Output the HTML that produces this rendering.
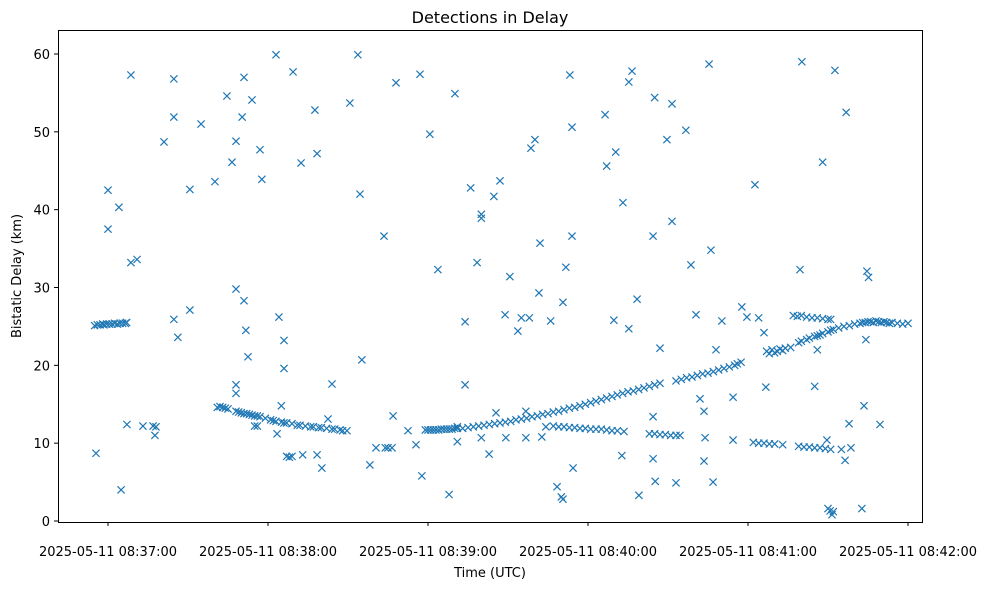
<!DOCTYPE html>
<html><head><meta charset="utf-8"><style>
body{margin:0;background:#fff;}
svg text{font-family:"DejaVu Sans","Liberation Sans",sans-serif;fill:#000;}
</style></head><body>
<svg id="chart" width="988" height="590" xmlns="http://www.w3.org/2000/svg">
<rect x="0" y="0" width="988" height="590" fill="#fff"/>
<text x="490" y="23" font-size="16" text-anchor="middle">Detections in Delay</text>
<g id="marks"></g>
<rect x="58.5" y="30.5" width="864" height="492" fill="none" stroke="#000" stroke-width="1"/>
<g id="xticks"></g>
<g id="yticks"></g>
<text x="490" y="577" font-size="13" text-anchor="middle">Time (UTC)</text>
<text x="21" y="276" font-size="13" text-anchor="middle" transform="rotate(-90 21 276)">Bistatic Delay (km)</text>
</svg>
<script>
// seconds after 08:37:00 UTC
const xTickSeconds=[0,60,120,180,240,300];
const xTickLabels=["2025-05-11 08:37:00","2025-05-11 08:38:00","2025-05-11 08:39:00","2025-05-11 08:40:00","2025-05-11 08:41:00","2025-05-11 08:42:00"];
const yTickValues=[0,10,20,30,40,50,60];
const clusterTimes=[-5,-4,-3,-2,-1.5,-0.5,0.5,1.5,2.5,3.5,4.5,5.5,6.5,7];
const clusterDelays=[25.1,25.2,25.2,25.3,25.2,25.3,25.3,25.3,25.4,25.3,25.4,25.4,25.4,25.5];
const descTimes=[41,42,43,44,45,48,49,50,51,52,53,54,55,56,57,59,61,62,63,65,66,67,69,71,72,74,76,77,79,80,82,84,85,87,88,89.6];
const descDelays=[14.6,14.7,14.6,14.5,14.4,14.1,14.0,13.9,13.8,13.8,13.7,13.6,13.5,13.5,13.4,13.2,13.0,12.9,12.8,12.7,12.6,12.6,12.5,12.3,12.3,12.2,12.1,12.1,12.0,12.0,11.9,11.8,11.8,11.7,11.6,11.6];
const curveTimes=[119,120,121,122,123,124,125,126,127,128,129,130,131,133,135,137,139,141,143,145,147,149,151,153,155,157,159,161,163,165,167,169,171,173,175,177,179,181,183,185,187,189,191,193,195,197,199,201,203,205,207,213,215,217,219,221,223,225,227,229,231,233,235,236];
const curveDelays=[11.7,11.7,11.7,11.7,11.7,11.7,11.8,11.8,11.8,11.8,11.8,11.9,11.9,11.9,12.0,12.1,12.2,12.3,12.4,12.5,12.6,12.7,12.8,13.0,13.1,13.2,13.4,13.5,13.7,13.8,14.0,14.1,14.3,14.5,14.6,14.8,15.0,15.2,15.4,15.6,15.8,16.0,16.2,16.4,16.6,16.7,16.9,17.1,17.3,17.5,17.7,18.0,18.2,18.4,18.5,18.7,18.9,19.0,19.2,19.4,19.6,19.8,20.0,20.2];
const lowTimes=[167,169,171,173,175,177,179,181,183,185,187,189,191,193.5,203,205,207,209,211,213,214.5,242,244,246,248,250,253,259,261,263,265,267,269,271,275];
const lowDelays=[12.2,12.1,12.1,12.0,12.0,11.9,11.9,11.8,11.8,11.8,11.7,11.6,11.6,11.5,11.2,11.2,11.1,11.1,11.0,11.0,11.0,10.1,10.0,10.0,9.9,9.9,9.8,9.6,9.5,9.5,9.4,9.4,9.3,9.2,9.2];
const lateTimes=[247,248,249,250,251,252,253,254,256,259,260,262,263,265,266,267,268,270,271,272,274,276,278,280,282,283,284,285,286,287,288,289,290,291,292,293,294,296,298,300];
const lateDelays=[21.8,21.5,22.0,21.6,21.8,22.1,21.9,22.2,22.3,22.9,23.1,23.3,23.5,23.7,23.8,23.9,24.1,24.3,24.5,24.6,24.8,25.0,25.1,25.3,25.4,25.5,25.5,25.6,25.6,25.5,25.7,25.6,25.5,25.6,25.5,25.4,25.5,25.4,25.3,25.4];
const band26Times=[257,258.5,260,262,264,266,268,270,271];
const band26Delays=[26.4,26.3,26.4,26.2,26.1,26.1,26.0,25.9,25.9];
const scatterTimes=[-4.5,0,0,4.1,8.6,10.9,4.9,7.1,8.6,13.1,16.9,17.6,18,21,24.7,24.7,24.7,26.2,30.7,30.7,34.9,40.1,44.6,46.5,48,48,48,48,50.3,51,51,51.7,52.5,54,57,57.7,55,56,63,64.1,65,66,66,63.4,67,68,69,69.4,72.4,73,77.6,78.4,78.4,80.2,82.5,84,90.7,93.7,94.5,95.2,98.2,100.5,103.5,104,105,106.5,106.9,108,112.5,115.5,117,117.7,120.7,123.7,127.9,130.1,131,131,133.9,133.9,136,138.4,140,140,140,142.9,144.7,147,145.5,149.2,148.9,150.7,153.7,155,156.7,158,156.7,158.6,160.1,162,161.6,162.7,164.2,166,168.4,170,170.6,170.6,171.7,173.2,174,174,174.4,186.4,187,189.7,190.4,193.1,192.7,195.3,196.5,195.3,198.4,199.1,205,204.4,204.4,204.4,205.2,207,209.6,211.5,211.5,213,216.7,218.6,220.5,222,223.5,223.5,223.9,225.4,226.1,226.9,228,230.2,234.4,234.4,237.4,237.7,239.6,242.6,244,246,246.7,259.5,260.2,265,266,268,269.6,270,270.8,271.5,272,272.6,276.8,276.4,277.9,278.6,282.7,283.5,284.2,284.6,285.2,289.5];
const scatterDelays=[8.7,42.5,37.5,40.3,33.2,33.6,4.0,12.4,57.3,12.2,12.2,11.0,12.1,48.7,56.8,51.9,25.9,23.6,27.1,42.6,51.0,43.6,54.6,46.1,48.8,29.8,17.5,16.4,51.9,57.0,28.3,24.5,21.1,54.1,47.7,43.9,12.2,12.2,59.9,26.2,14.8,23.2,19.6,11.2,8.3,8.2,8.3,57.7,46.0,8.5,52.8,47.2,8.5,6.8,13.1,17.6,53.7,59.9,42.0,20.7,7.2,9.4,36.6,9.4,9.4,9.4,13.5,56.3,11.6,9.8,57.4,5.8,49.7,32.3,3.4,54.9,12.1,10.2,17.5,25.6,42.8,33.2,39.4,38.9,10.7,8.6,41.7,43.7,13.9,10.7,26.5,31.4,24.4,26.1,10.7,26.1,14.1,47.9,49.0,35.7,29.3,10.8,12.1,25.7,4.4,3.1,2.8,28.1,32.6,57.3,50.6,36.6,6.8,52.2,45.6,25.8,47.4,40.9,8.4,24.7,57.8,56.4,28.5,3.3,54.4,36.6,13.4,8.0,5.1,22.2,49.0,53.6,38.5,4.9,50.2,32.9,26.5,15.7,14.1,7.7,10.7,58.7,34.8,5.0,22.0,25.7,15.9,10.4,20.4,27.5,26.2,43.2,26.1,24.2,17.2,32.3,59.0,17.3,22.0,46.1,10.4,1.6,1.3,0.8,1.2,57.9,52.5,7.8,12.5,9.4,1.6,14.8,23.3,32.1,31.3,12.4];

const NS='http://www.w3.org/2000/svg';
function xScale(t){return 108+t*(160/60);}
function yScale(v){return 521-v*(467/60);}
const xg=document.getElementById('xticks');
xTickSeconds.forEach((s,i)=>{
  const x=xScale(s);
  const l=document.createElementNS(NS,'line');
  
  
  l.setAttribute('x1',x);l.setAttribute('x2',x);l.setAttribute('y1',522);l.setAttribute('y2',526);l.setAttribute('stroke','#000');
  xg.appendChild(l);
  const t=document.createElementNS(NS,'text');
  
  
  t.setAttribute('x',x);t.setAttribute('y',556);t.setAttribute('font-size','13');t.setAttribute('text-anchor','middle');
  t.textContent=xTickLabels[i];xg.appendChild(t);
});
const yg=document.getElementById('yticks');
yTickValues.forEach(v=>{
  const y=yScale(v);
  const l=document.createElementNS(NS,'line');
  
  
  l.setAttribute('x1',54);l.setAttribute('x2',58);l.setAttribute('y1',y);l.setAttribute('y2',y);l.setAttribute('stroke','#000');
  yg.appendChild(l);
  const t=document.createElementNS(NS,'text');
  
  
  t.setAttribute('x',50);t.setAttribute('y',y+5);t.setAttribute('font-size','13');t.setAttribute('text-anchor','end');
  t.textContent=v;yg.appendChild(t);
});
const mg=document.getElementById('marks');
function plot(ts,vs){
  ts.forEach((tt,i)=>{
    const x=xScale(tt),y=yScale(vs[i]),r=3.6;
    const p=document.createElementNS(NS,'path');
    
    
    p.setAttribute('d',`M${x-r},${y-r}L${x+r},${y+r}M${x-r},${y+r}L${x+r},${y-r}`);
    p.setAttribute('stroke','#1f77b4');p.setAttribute('stroke-width','1.2');p.setAttribute('fill','none');
    mg.appendChild(p);
  });
}
plot(clusterTimes,clusterDelays);
plot(descTimes,descDelays);
plot(curveTimes,curveDelays);
plot(lowTimes,lowDelays);
plot(lateTimes,lateDelays);
plot(band26Times,band26Delays);
plot(scatterTimes,scatterDelays);
</script>
</body></html>
